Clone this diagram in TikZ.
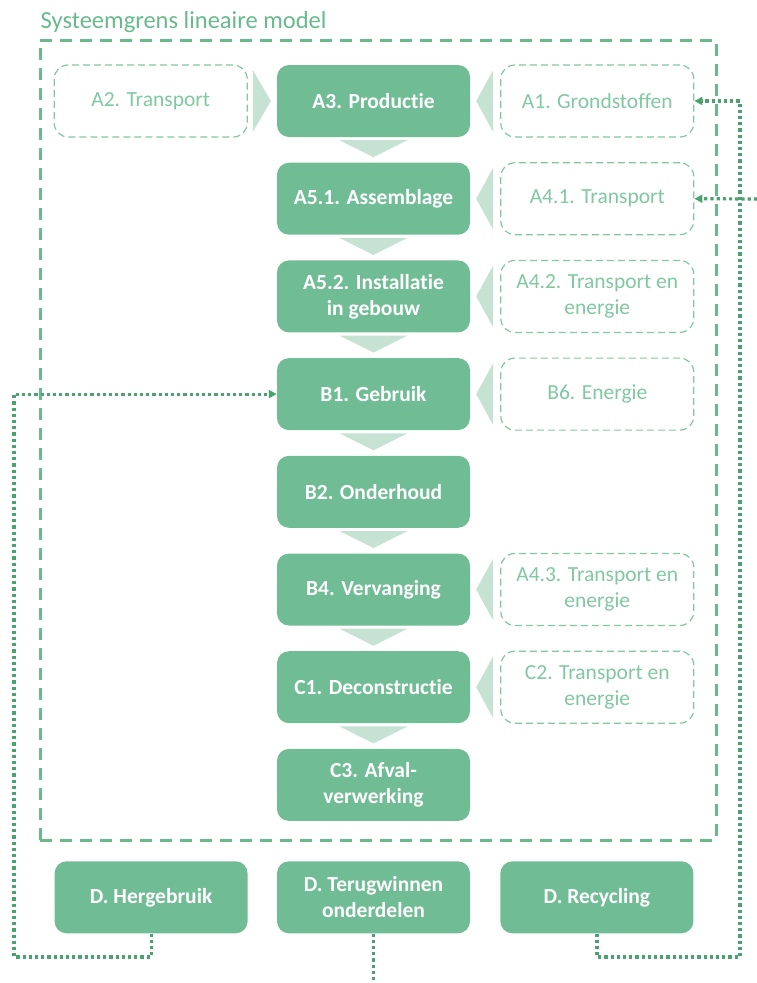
\documentclass[tikz,border=0pt]{standalone}
\usepackage{fontspec}
\setmainfont{Carlito}[Ligatures=NoCommon]
\usetikzlibrary{arrows.meta,positioning,calc}
\definecolor{stagegreen}{RGB}{112,189,149}
\definecolor{chevgreen}{RGB}{197,226,210}
\definecolor{inputgreen}{RGB}{128,200,160}
\definecolor{grensgreen}{RGB}{104,186,140}
\definecolor{loopgreen}{RGB}{74,162,112}
\tikzset{
  stage/.style={fill=stagegreen, rounded corners=12pt, minimum width=193pt,
    minimum height=72pt, inner sep=0pt, align=center, text=white,
    font=\fontsize{21.5}{26}\selectfont\bfseries},
  input/.style={draw=inputgreen, line width=1.2pt, dash pattern=on 7pt off 4pt,
    rounded corners=14pt, minimum width=193pt, minimum height=72pt, inner sep=0pt,
    align=center, text=inputgreen, font=\fontsize{21.5}{26}\selectfont},
  grens/.style={draw=grensgreen, line width=3pt, dash pattern=on 12pt off 8pt,
    minimum width=676pt, minimum height=800pt, inner sep=0pt},
  titel/.style={text=grensgreen, font=\fontsize{24.5}{29}\selectfont, inner sep=0pt},
  chev/.style={fill=chevgreen},
  loop/.style={draw=loopgreen, line width=3.2pt, dash pattern=on 3.2pt off 3pt},
  loopin/.style={loop, -{Triangle[length=8pt,width=8pt]}}
}

\begin{document}
\begin{tikzpicture}[x=1pt,y=-1pt]
  \useasboundingbox (0,0) rectangle (757,983);
  % systeemgrens
  \node[grens] (grens) at (378,440) {};
  \node[titel, anchor=base west] (titel) at ($(grens.north west)+(2,-10)$) {Systeemgrens lineaire model};

  % hoofdketen
  \node[stage] (prod) at (373.5,101) {A3. Productie};
  \node[stage, below=25.3pt of prod] (assem) {A5.1. Assemblage};
  \node[stage, below=25.3pt of assem] (install) {A5.2. Installatie\\in gebouw};
  \node[stage, below=25.3pt of install] (gebruik) {B1. Gebruik};
  \node[stage, below=25.3pt of gebruik] (onderh) {B2. Onderhoud};
  \node[stage, below=25.3pt of onderh] (verv) {B4. Vervanging};
  \node[stage, below=25.3pt of verv] (decon) {C1. Deconstructie};
  \node[stage, below=25.3pt of decon] (afval) {C3. Afval-\\verwerking};

  % invoer
  \node[input, left=29pt of prod] (transA2) {A2. Transport};
  \node[input, right=30pt of prod] (grond) {A1. Grondstoffen};
  \node[input, right=30pt of assem] (transA41) {A4.1. Transport};
  \node[input, right=30pt of install] (transA42) {A4.2. Transport en\\energie};
  \node[input, right=30pt of gebruik] (energie) {B6. Energie};
  \node[input, right=30pt of verv] (transA43) {A4.3. Transport en\\energie};
  \node[input, right=30pt of decon] (transC2) {C2. Transport en\\energie};

  % module D
  \node[stage, below=40pt of afval] (terug) {D. Terugwinnen\\onderdelen};
  \node[stage, left=29pt of terug] (herg) {D. Hergebruik};
  \node[stage, right=30pt of terug] (recyc) {D. Recycling};

  % pijlen
  \foreach \a in {prod,assem,install,gebruik,onderh,verv,decon}
    \fill[chev] ($(\a.south)+(-34,3)$) -- ($(\a.south)+(34,3)$) -- ($(\a.south)+(0,20)$) -- cycle;
  \foreach \s in {grond,transA41,transA42,energie,transA43,transC2}
    \fill[chev] ($(\s.west)+(-7,-31)$) -- ($(\s.west)+(-7,31)$) -- ($(\s.west)+(-24,0)$) -- cycle;
  \fill[chev] ($(transA2.east)+(5,-31)$) -- ($(transA2.east)+(5,31)$) -- ($(transA2.east)+(23,0)$) -- cycle;

  % terugkoppeling
  \coordinate (lhoek) at (14,957);
  \coordinate (rhoek) at (740,957);
  \coordinate (inA41) at (757,199);
  \coordinate (uit) at (373.5,983);
  \draw[loopin] (herg.south) |- (lhoek) |- (gebruik.west);
  \draw[loopin] (recyc.south) |- (rhoek) |- (grond.east);
  \draw[loopin] (inA41) -- (transA41.east);
  \draw[loop] (terug.south) -- (uit);
\end{tikzpicture}
\end{document}
